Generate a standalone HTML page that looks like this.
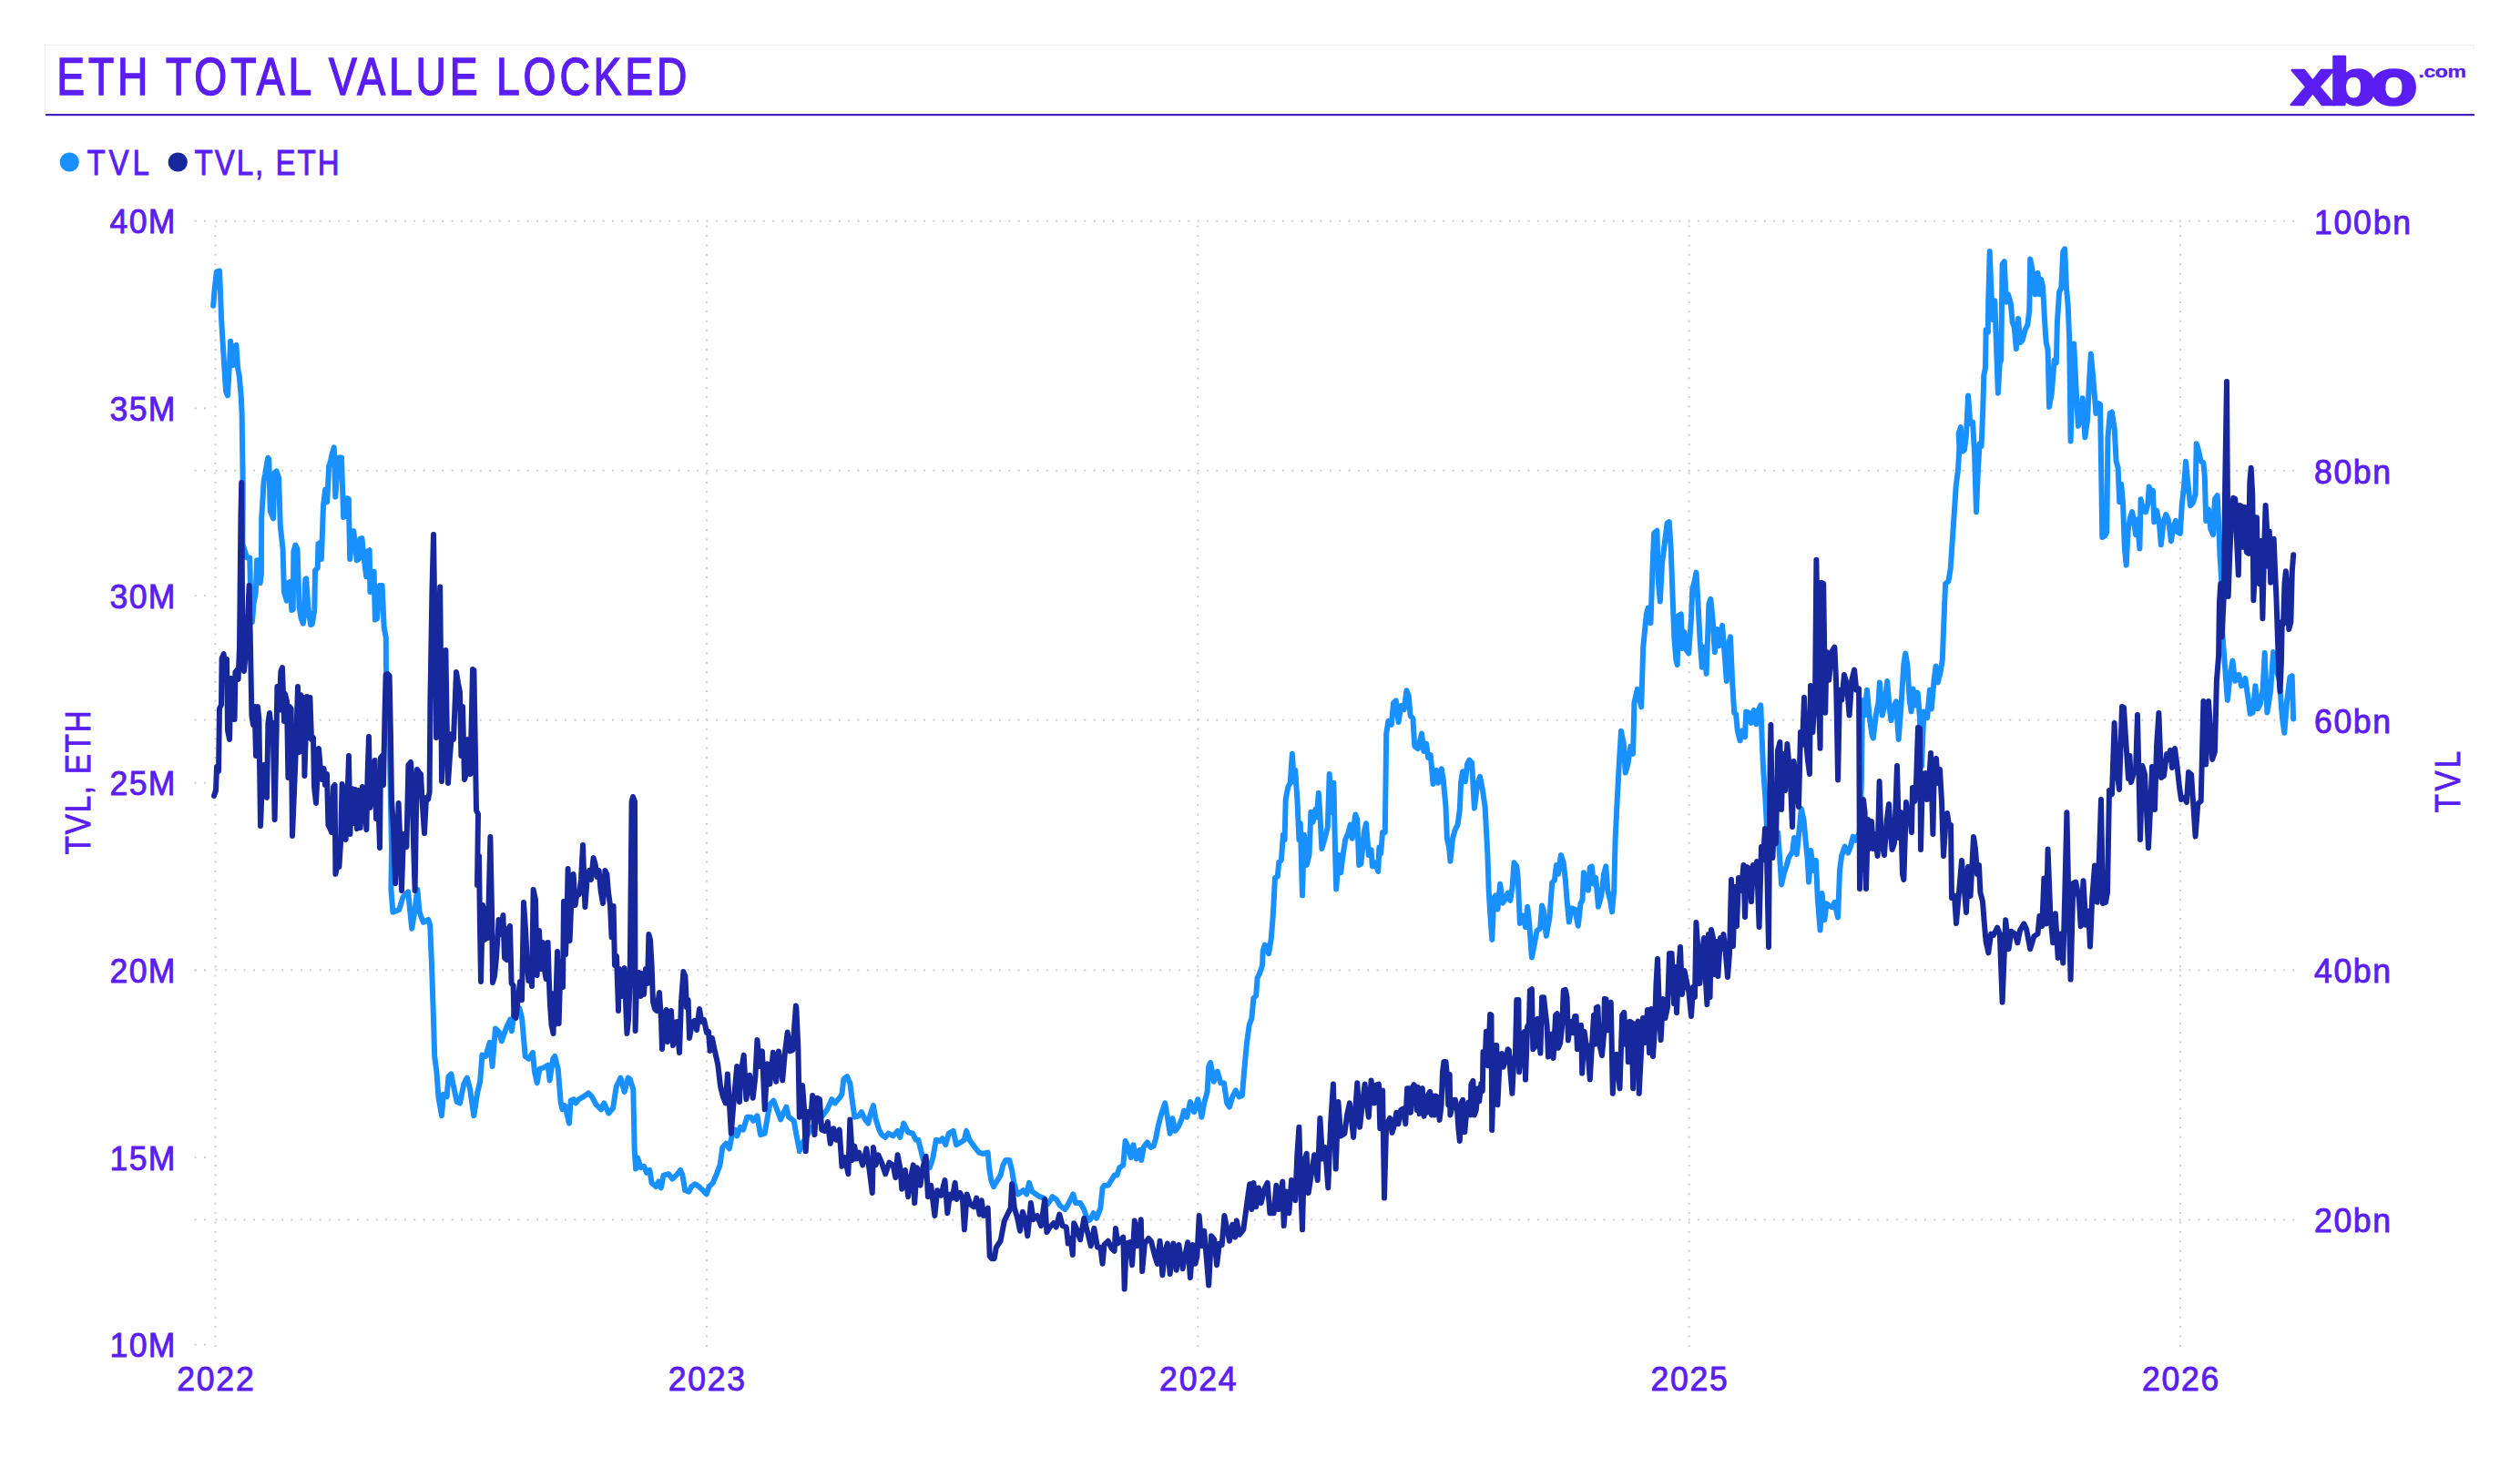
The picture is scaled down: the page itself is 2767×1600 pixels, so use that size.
<!DOCTYPE html>
<html lang="en"><head><meta charset="utf-8"><title>ETH Total Value Locked</title>
<style>
html,body{margin:0;padding:0;background:#fff;}
body{width:2767px;height:1600px;overflow:hidden;}
svg{display:block;}
text{font-family:"Liberation Sans", Arial, Helvetica, sans-serif;fill:#5a1df2;}
.g{stroke:#cdcdcd;stroke-width:2;stroke-dasharray:2 8.35;fill:none;}
</style></head><body>
<svg width="2767" height="1600" viewBox="0 0 2767 1600">
<rect width="2767" height="1600" fill="#fff"/>

<path d="M49.5 126 V49.5 H2716.5 V54" fill="none" stroke="#efefef" stroke-width="1"/>
<rect x="50" y="125" width="2667" height="2.2" fill="#4a1fc2"/>
<text transform="translate(62.3 104.2) scale(0.81 1)" font-size="57" text-anchor="start" textLength="854.3" lengthAdjust="spacing" stroke="#5a1df2" stroke-width="1.5">ETH TOTAL VALUE LOCKED</text>
<text transform="translate(2515.5 114.6) scale(1.2 1)" font-size="72" font-weight="bold" stroke="#5a1df2" stroke-width="2.6" stroke-linejoin="round" x="0 34.3 72">xbo</text>
<text transform="translate(2655.5 85.3) scale(1.25 1)" font-size="18.5" text-anchor="start" textLength="42.0" lengthAdjust="spacing" stroke="#5a1df2" stroke-width="0.3" font-weight="bold">.com</text>
<circle cx="76.3" cy="178" r="10.6" fill="#1890ff"/>
<text transform="translate(95.5 192) scale(0.87 1)" font-size="38" text-anchor="start" textLength="78.7" lengthAdjust="spacing" stroke="#5a1df2" stroke-width="0.9">TVL</text>
<circle cx="195.3" cy="178" r="10.6" fill="#16289c"/>
<text transform="translate(213.5 192) scale(0.87 1)" font-size="38" text-anchor="start" textLength="182.8" lengthAdjust="spacing" stroke="#5a1df2" stroke-width="0.9">TVL, ETH</text>
<path class="g" style="stroke-dasharray:2 8.45" d="M213.6 242.7 H227"/>
<path class="g" style="stroke-dasharray:2 8.367" d="M236.5 242.7 H2520.5"/>
<path class="g" style="stroke-dasharray:2 8.45" d="M213.6 516.7 H227"/>
<path class="g" style="stroke-dasharray:2 8.367" d="M236.5 516.7 H2520.5"/>
<path class="g" style="stroke-dasharray:2 8.45" d="M213.6 790.8 H227"/>
<path class="g" style="stroke-dasharray:2 8.367" d="M236.5 790.8 H2520.5"/>
<path class="g" style="stroke-dasharray:2 8.45" d="M213.6 1065.3 H227"/>
<path class="g" style="stroke-dasharray:2 8.367" d="M236.5 1065.3 H2520.5"/>
<path class="g" style="stroke-dasharray:2 8.45" d="M213.6 1339.5 H227"/>
<path class="g" style="stroke-dasharray:2 8.367" d="M236.5 1339.5 H2520.5"/>
<path class="g" style="stroke-dasharray:2 8.45" d="M213.6 448.4 H227"/>
<path class="g" style="stroke-dasharray:2 8.45" d="M213.6 654.1 H227"/>
<path class="g" style="stroke-dasharray:2 8.45" d="M213.6 859.7 H227"/>
<path class="g" style="stroke-dasharray:2 8.45" d="M213.6 1065.4 H227"/>
<path class="g" style="stroke-dasharray:2 8.45" d="M213.6 1271.1 H227"/>
<path class="g" style="stroke-dasharray:2 8.45" d="M213.6 1476.8 H227"/>
<path class="g" style="stroke-dasharray:2 8.418" d="M236.5 247.6 V1479.5"/>
<path class="g" style="stroke-dasharray:2 8.418" d="M775.9 247.6 V1479.5"/>
<path class="g" style="stroke-dasharray:2 8.418" d="M1315.3 247.6 V1479.5"/>
<path class="g" style="stroke-dasharray:2 8.418" d="M1854.7 247.6 V1479.5"/>
<path class="g" style="stroke-dasharray:2 8.418" d="M2394.1 247.6 V1479.5"/>
<text transform="translate(192.5 256.3) scale(0.95 1)" font-size="37.5" text-anchor="end" textLength="75.8" lengthAdjust="spacing" stroke="#5a1df2" stroke-width="0.9">40M</text>
<text transform="translate(192.5 462.0) scale(0.95 1)" font-size="37.5" text-anchor="end" textLength="75.8" lengthAdjust="spacing" stroke="#5a1df2" stroke-width="0.9">35M</text>
<text transform="translate(192.5 667.7) scale(0.95 1)" font-size="37.5" text-anchor="end" textLength="75.8" lengthAdjust="spacing" stroke="#5a1df2" stroke-width="0.9">30M</text>
<text transform="translate(192.5 873.3) scale(0.95 1)" font-size="37.5" text-anchor="end" textLength="75.8" lengthAdjust="spacing" stroke="#5a1df2" stroke-width="0.9">25M</text>
<text transform="translate(192.5 1079.0) scale(0.95 1)" font-size="37.5" text-anchor="end" textLength="75.8" lengthAdjust="spacing" stroke="#5a1df2" stroke-width="0.9">20M</text>
<text transform="translate(192.5 1284.7) scale(0.95 1)" font-size="37.5" text-anchor="end" textLength="75.8" lengthAdjust="spacing" stroke="#5a1df2" stroke-width="0.9">15M</text>
<text transform="translate(192.5 1490.4) scale(0.95 1)" font-size="37.5" text-anchor="end" textLength="75.8" lengthAdjust="spacing" stroke="#5a1df2" stroke-width="0.9">10M</text>
<text transform="translate(2541 256.5) scale(0.95 1)" font-size="37.5" text-anchor="start" textLength="111.6" lengthAdjust="spacing" stroke="#5a1df2" stroke-width="0.9">100bn</text>
<text transform="translate(2541 530.7) scale(0.95 1)" font-size="37.5" text-anchor="start" textLength="88.4" lengthAdjust="spacing" stroke="#5a1df2" stroke-width="0.9">80bn</text>
<text transform="translate(2541 804.9) scale(0.95 1)" font-size="37.5" text-anchor="start" textLength="88.4" lengthAdjust="spacing" stroke="#5a1df2" stroke-width="0.9">60bn</text>
<text transform="translate(2541 1079.1) scale(0.95 1)" font-size="37.5" text-anchor="start" textLength="88.4" lengthAdjust="spacing" stroke="#5a1df2" stroke-width="0.9">40bn</text>
<text transform="translate(2541 1353.3) scale(0.95 1)" font-size="37.5" text-anchor="start" textLength="88.4" lengthAdjust="spacing" stroke="#5a1df2" stroke-width="0.9">20bn</text>
<text transform="translate(236.5 1527.3) scale(0.95 1)" font-size="37.5" text-anchor="middle" textLength="88.9" lengthAdjust="spacing" stroke="#5a1df2" stroke-width="0.9">2022</text>
<text transform="translate(775.9 1527.3) scale(0.95 1)" font-size="37.5" text-anchor="middle" textLength="88.9" lengthAdjust="spacing" stroke="#5a1df2" stroke-width="0.9">2023</text>
<text transform="translate(1315.3 1527.3) scale(0.95 1)" font-size="37.5" text-anchor="middle" textLength="88.9" lengthAdjust="spacing" stroke="#5a1df2" stroke-width="0.9">2024</text>
<text transform="translate(1854.7 1527.3) scale(0.95 1)" font-size="37.5" text-anchor="middle" textLength="88.9" lengthAdjust="spacing" stroke="#5a1df2" stroke-width="0.9">2025</text>
<text transform="translate(2394.1 1527.3) scale(0.95 1)" font-size="37.5" text-anchor="middle" textLength="88.9" lengthAdjust="spacing" stroke="#5a1df2" stroke-width="0.9">2026</text>
<text transform="translate(98.5 859.3) rotate(-90) scale(0.87 1)" font-size="38" text-anchor="middle" textLength="181.6" lengthAdjust="spacing" stroke="#5a1df2" stroke-width="0.9">TVL, ETH</text>
<text transform="translate(2700.5 858.5) rotate(-90) scale(0.87 1)" font-size="38" text-anchor="middle" textLength="77.6" lengthAdjust="spacing" stroke="#5a1df2" stroke-width="0.9">TVL</text>
<path d="M234.2 335.8 L235.6 317.8 L237.8 298.3 L241.1 297.5 L243.1 351.1 L246.7 409.4 L248.1 430.3 L250.0 434.4 L252.2 395.6 L253.1 374.7 L255.8 401.1 L257.8 380.3 L259.4 378.9 L261.1 403.9 L262.8 413.6 L264.7 434.4 L265.6 453.9 L266.1 490.0 L266.7 530.3 L266.4 597.2 L271.1 612.5 L274.2 612.5 L275.1 652.8 L276.9 683.3 L278.6 662.5 L280.7 651.4 L282.1 615.3 L284.2 615.3 L285.6 640.3 L286.9 630.6 L287.2 569.4 L289.7 527.8 L291.1 520.8 L294.2 502.8 L295.3 504.2 L296.7 561.1 L300.1 569.4 L301.5 519.4 L303.6 517.4 L306.1 525.0 L307.8 577.8 L310.6 602.8 L311.9 650.0 L314.7 659.7 L316.1 640.3 L318.2 638.9 L320.3 670.1 L321.7 669.4 L322.4 605.6 L324.4 598.6 L326.5 602.8 L328.6 666.7 L330.7 679.2 L332.8 684.7 L334.2 675.0 L335.3 636.1 L336.2 635.4 L338.3 666.7 L341.1 686.1 L342.8 685.4 L345.3 669.4 L346.0 626.4 L348.8 623.6 L349.4 597.2 L352.2 595.8 L352.9 613.9 L355.0 555.6 L357.1 537.5 L359.2 551.4 L361.2 511.1 L361.9 510.8 L364.7 498.3 L366.7 491.4 L368.3 545.6 L370.3 517.8 L372.2 502.5 L375.0 502.5 L375.8 527.8 L377.2 568.1 L379.3 566.7 L380.7 547.2 L382.8 547.9 L384.2 613.9 L386.9 583.3 L388.3 583.3 L391.8 615.3 L393.9 613.9 L395.3 591.7 L397.4 591.0 L399.4 611.1 L402.2 633.3 L403.6 605.6 L405.7 604.2 L406.4 650.0 L408.5 627.8 L410.6 627.8 L411.9 680.6 L414.0 679.2 L416.8 643.1 L419.6 643.1 L421.7 688.9 L423.8 700.0 L423.9 730.6 L427.8 822.2 L430.0 933.3 L429.4 976.7 L431.4 1001.7 L438.3 998.9 L442.5 985.0 L448.1 979.4 L452.2 1019.7 L455.6 998.9 L458.3 976.7 L460.6 1001.7 L464.7 1012.8 L470.3 1010.0 L472.2 1015.6 L473.9 1057.2 L475.8 1112.8 L477.2 1160.0 L479.4 1176.7 L481.4 1204.4 L485.0 1225.3 L486.9 1201.7 L490.6 1204.4 L492.5 1182.2 L495.3 1179.4 L498.1 1193.3 L501.7 1210.0 L505.0 1211.4 L509.2 1190.6 L512.8 1183.6 L516.1 1196.1 L520.3 1225.3 L524.4 1198.9 L527.2 1187.8 L529.4 1158.6 L533.3 1160.0 L537.8 1144.7 L540.6 1171.1 L543.9 1129.4 L548.1 1133.6 L550.8 1143.3 L555.6 1129.4 L560.0 1119.7 L561.9 1132.2 L564.7 1110.0 L570.3 1107.2 L573.1 1118.3 L576.7 1160.0 L580.6 1162.8 L585.0 1155.8 L586.9 1176.7 L589.7 1189.2 L592.5 1173.9 L596.7 1172.5 L601.7 1169.7 L603.6 1186.4 L607.2 1162.8 L609.2 1160.0 L612.8 1173.9 L615.6 1210.0 L617.5 1218.3 L620.3 1214.2 L625.0 1233.6 L626.7 1208.6 L630.0 1207.2 L632.2 1211.4 L635.6 1207.2 L640.6 1204.4 L646.1 1200.3 L650.0 1204.4 L654.4 1212.8 L660.0 1218.3 L663.3 1211.4 L668.3 1222.5 L673.1 1216.9 L676.7 1193.3 L681.4 1183.6 L685.6 1198.9 L689.7 1183.6 L691.7 1185.0 L695.3 1196.1 L696.7 1262.8 L698.1 1283.6 L700.0 1271.1 L703.6 1282.2 L707.2 1280.8 L710.0 1287.8 L713.3 1285.0 L715.6 1298.9 L720.3 1303.1 L723.1 1297.5 L725.8 1304.4 L728.6 1290.6 L734.2 1289.2 L738.3 1294.7 L742.5 1290.6 L747.2 1285.0 L749.4 1290.6 L752.2 1307.2 L756.4 1308.6 L759.2 1303.1 L763.3 1300.3 L767.5 1303.1 L771.7 1307.2 L775.8 1311.4 L778.6 1303.1 L782.8 1298.9 L786.9 1289.2 L790.6 1279.4 L793.3 1260.0 L797.2 1255.8 L800.8 1261.4 L803.6 1247.5 L807.2 1240.6 L809.2 1247.5 L812.8 1237.8 L816.1 1240.6 L820.3 1226.7 L824.4 1226.7 L827.2 1230.8 L831.4 1225.3 L835.0 1246.1 L839.7 1244.7 L842.5 1228.1 L845.3 1212.8 L849.4 1208.6 L853.6 1219.7 L857.2 1229.4 L863.3 1215.6 L866.1 1226.7 L871.7 1230.8 L874.4 1246.1 L877.8 1262.8 L877.8 1264.2 L881.9 1254.4 L891.7 1237.8 L904.2 1223.9 L908.3 1218.3 L913.3 1207.2 L916.7 1211.4 L921.7 1205.8 L924.4 1201.7 L926.4 1185.0 L930.0 1182.2 L933.3 1189.2 L935.6 1207.2 L938.3 1226.7 L943.1 1225.3 L945.8 1221.1 L950.0 1229.4 L953.3 1233.6 L955.6 1223.9 L958.9 1214.2 L961.7 1229.4 L965.3 1240.6 L968.1 1246.1 L972.2 1248.9 L975.6 1244.7 L980.6 1247.5 L985.6 1241.9 L988.3 1248.9 L992.2 1233.6 L994.4 1237.8 L997.2 1243.3 L1002.2 1244.7 L1005.6 1251.7 L1008.3 1251.7 L1011.1 1262.8 L1013.9 1273.9 L1016.7 1279.4 L1020.8 1282.2 L1024.4 1271.1 L1027.8 1251.7 L1031.9 1253.1 L1034.7 1250.3 L1038.3 1257.2 L1041.7 1244.7 L1046.7 1241.9 L1050.0 1257.2 L1055.0 1254.4 L1058.9 1251.7 L1061.1 1241.9 L1064.4 1251.7 L1069.4 1258.6 L1075.0 1265.6 L1079.2 1266.9 L1084.7 1265.6 L1086.1 1282.2 L1088.3 1296.1 L1091.1 1303.1 L1094.4 1297.5 L1098.6 1290.6 L1101.4 1279.4 L1104.2 1273.9 L1108.3 1273.9 L1111.1 1285.0 L1113.3 1298.9 L1116.1 1308.6 L1118.1 1311.4 L1123.6 1307.2 L1127.2 1311.4 L1130.0 1298.9 L1133.3 1308.6 L1137.5 1311.4 L1141.7 1314.2 L1145.8 1315.6 L1150.0 1322.5 L1154.2 1316.9 L1155.6 1314.2 L1159.7 1316.9 L1163.9 1323.9 L1169.4 1328.1 L1173.6 1321.1 L1178.3 1311.4 L1181.1 1321.1 L1186.1 1321.1 L1190.3 1328.1 L1194.4 1340.6 L1197.2 1339.2 L1200.6 1332.2 L1204.2 1337.8 L1208.3 1326.7 L1210.6 1304.4 L1212.5 1301.7 L1216.7 1301.7 L1219.4 1297.5 L1223.6 1290.6 L1226.4 1290.6 L1229.2 1282.2 L1233.3 1279.4 L1235.6 1253.1 L1238.9 1260.0 L1241.7 1271.1 L1244.4 1257.2 L1247.8 1272.5 L1251.4 1262.8 L1253.3 1273.9 L1255.6 1260.0 L1259.7 1254.4 L1263.3 1260.0 L1266.7 1258.6 L1269.4 1248.9 L1271.7 1236.4 L1275.0 1223.9 L1279.2 1211.4 L1281.9 1226.7 L1284.7 1244.7 L1287.5 1228.1 L1290.3 1241.9 L1294.4 1236.4 L1297.8 1228.1 L1300.0 1219.7 L1303.3 1226.7 L1306.9 1210.0 L1311.1 1221.1 L1315.3 1207.2 L1319.4 1226.7 L1322.2 1211.4 L1325.6 1198.9 L1327.2 1171.1 L1329.2 1166.9 L1332.8 1187.8 L1336.7 1176.7 L1340.3 1189.2 L1343.9 1189.2 L1347.2 1211.4 L1350.0 1215.6 L1353.3 1204.4 L1356.9 1197.5 L1360.6 1204.4 L1363.9 1203.1 L1366.1 1176.7 L1368.9 1146.1 L1371.7 1125.3 L1374.4 1118.3 L1376.4 1096.1 L1379.2 1093.3 L1380.6 1073.9 L1382.8 1069.7 L1386.1 1060.0 L1386.7 1044.4 L1388.9 1037.5 L1393.1 1047.2 L1395.8 1030.6 L1397.8 1005.6 L1400.0 963.9 L1402.8 962.5 L1404.2 947.2 L1406.9 944.4 L1408.9 916.7 L1410.6 922.2 L1411.7 877.8 L1414.4 863.9 L1416.7 859.7 L1418.9 827.8 L1420.8 858.3 L1422.2 845.8 L1424.4 877.8 L1426.4 922.2 L1427.8 904.2 L1430.0 983.3 L1431.9 916.7 L1434.7 950.0 L1437.5 938.9 L1439.4 891.7 L1441.7 902.8 L1444.4 888.9 L1445.8 897.2 L1447.8 870.8 L1449.4 894.4 L1451.4 931.9 L1454.2 922.2 L1457.8 908.3 L1459.7 850.0 L1461.7 891.7 L1464.4 859.7 L1466.1 936.1 L1467.2 976.4 L1470.0 938.9 L1472.2 958.3 L1474.4 940.3 L1477.2 922.2 L1480.6 913.9 L1482.8 905.6 L1484.7 920.8 L1488.3 894.4 L1490.3 900.0 L1492.2 950.0 L1494.4 948.6 L1497.8 913.9 L1500.0 904.2 L1502.8 938.9 L1505.6 933.3 L1506.9 951.4 L1509.7 947.2 L1513.3 956.9 L1514.4 930.6 L1516.1 937.5 L1518.1 913.9 L1520.8 913.9 L1522.2 805.6 L1524.4 791.7 L1527.8 795.8 L1530.0 772.2 L1532.8 769.4 L1535.6 793.1 L1538.3 775.0 L1541.7 779.2 L1544.4 758.3 L1546.7 763.9 L1548.6 786.1 L1551.4 788.9 L1553.3 819.4 L1556.9 822.2 L1561.1 805.6 L1563.3 825.0 L1566.1 816.7 L1568.1 831.9 L1570.8 829.2 L1573.6 861.1 L1577.2 845.8 L1579.2 859.7 L1582.8 844.4 L1584.7 855.6 L1587.5 886.1 L1588.9 920.8 L1591.1 930.6 L1592.5 945.8 L1595.0 920.8 L1597.8 911.1 L1600.6 905.6 L1602.8 888.9 L1604.2 858.3 L1606.1 847.2 L1608.9 858.3 L1611.1 838.9 L1613.3 834.7 L1616.1 837.5 L1618.9 887.5 L1622.2 861.1 L1625.0 852.8 L1627.8 866.7 L1630.6 886.1 L1633.3 936.1 L1634.7 977.8 L1636.1 1001.4 L1638.3 1031.9 L1640.3 986.1 L1642.2 983.3 L1644.4 998.6 L1647.2 970.8 L1650.0 991.7 L1652.8 987.5 L1655.6 980.6 L1658.3 988.9 L1660.6 973.6 L1662.5 947.2 L1665.3 951.4 L1666.7 963.9 L1668.9 1013.9 L1672.2 1005.6 L1675.0 1018.1 L1677.2 995.8 L1679.2 1013.9 L1681.9 1051.4 L1684.7 1037.5 L1687.5 1022.2 L1691.1 1019.4 L1693.1 994.4 L1695.0 1000.0 L1697.8 1027.8 L1701.4 1008.3 L1704.2 969.4 L1706.9 966.7 L1708.9 950.0 L1711.1 959.7 L1713.9 938.9 L1716.7 947.2 L1718.9 966.7 L1720.8 991.7 L1722.8 1012.5 L1725.6 997.2 L1729.2 998.6 L1732.8 1016.7 L1735.6 991.7 L1737.5 988.9 L1738.9 958.3 L1741.7 966.7 L1743.9 977.8 L1745.8 952.8 L1747.8 951.4 L1750.0 970.8 L1752.2 963.9 L1755.0 995.8 L1758.3 983.3 L1761.1 959.7 L1763.3 951.4 L1765.3 977.8 L1768.1 988.9 L1770.0 1001.4 L1772.2 977.8 L1773.6 922.2 L1775.6 880.6 L1777.8 838.9 L1780.0 802.8 L1782.8 816.7 L1784.7 848.6 L1787.5 838.9 L1790.3 819.4 L1793.1 827.8 L1794.4 772.2 L1797.8 756.9 L1800.0 766.7 L1802.2 776.4 L1804.2 711.1 L1807.8 674.4 L1809.7 667.5 L1812.5 684.2 L1814.4 627.2 L1816.1 585.6 L1819.4 582.8 L1820.8 638.3 L1822.8 660.6 L1825.0 618.9 L1827.8 596.7 L1830.6 574.4 L1832.8 573.1 L1834.7 602.2 L1836.7 657.8 L1838.3 699.4 L1840.3 724.4 L1841.7 730.0 L1843.1 675.8 L1845.8 674.4 L1847.2 711.9 L1849.4 693.9 L1851.4 713.3 L1854.2 717.5 L1856.9 680.0 L1858.3 646.7 L1860.6 638.3 L1862.5 628.6 L1864.4 660.6 L1866.7 705.0 L1868.9 732.8 L1871.7 710.6 L1873.6 739.7 L1876.4 663.3 L1878.3 657.8 L1880.6 680.0 L1882.8 716.1 L1885.6 691.1 L1887.5 709.2 L1891.1 686.9 L1893.9 721.7 L1895.8 748.1 L1897.8 707.8 L1900.0 699.4 L1902.2 749.4 L1904.2 782.8 L1906.1 784.2 L1907.8 802.2 L1910.6 813.3 L1913.3 802.2 L1916.1 809.2 L1917.2 781.4 L1920.0 782.8 L1922.8 793.9 L1925.6 780.0 L1928.3 795.3 L1930.6 780.0 L1933.3 774.4 L1934.7 810.6 L1936.1 845.0 L1938.3 875.6 L1940.3 914.4 L1945.8 931.1 L1952.2 914.4 L1954.2 942.2 L1956.1 971.4 L1958.9 958.9 L1961.7 950.6 L1963.9 942.2 L1968.1 935.3 L1970.0 920.0 L1972.8 938.1 L1975.6 911.7 L1977.8 888.1 L1980.6 900.6 L1982.8 925.6 L1984.7 943.6 L1986.1 968.6 L1988.3 933.9 L1991.1 956.1 L1993.9 945.0 L1995.8 986.7 L1998.6 1021.4 L2000.6 981.1 L2003.3 1010.3 L2005.6 992.2 L2008.9 995.0 L2011.7 996.4 L2014.4 990.8 L2018.1 1007.5 L2020.0 956.1 L2022.2 939.4 L2025.6 929.7 L2029.2 936.7 L2031.9 929.7 L2034.7 918.6 L2037.5 922.8 L2041.7 914.4 L2043.9 858.9 L2045.0 768.9 L2047.2 785.6 L2050.0 757.8 L2052.8 788.3 L2055.6 807.8 L2056.9 810.6 L2059.7 785.6 L2062.5 771.7 L2063.9 749.4 L2066.7 785.6 L2069.4 774.4 L2072.2 748.1 L2075.0 780.0 L2076.4 791.1 L2079.2 777.2 L2081.9 770.3 L2084.7 811.9 L2087.5 774.4 L2090.3 730.0 L2092.2 717.5 L2094.4 730.0 L2096.7 768.9 L2098.6 781.4 L2100.6 756.4 L2102.8 774.4 L2105.6 760.6 L2107.8 785.6 L2110.0 841.1 L2111.1 813.3 L2112.5 781.4 L2116.1 788.3 L2118.9 757.8 L2120.8 778.6 L2123.6 746.7 L2125.6 731.4 L2127.8 749.4 L2130.6 738.3 L2132.8 724.4 L2134.7 674.4 L2136.1 641.1 L2139.4 638.3 L2141.7 624.4 L2143.9 591.1 L2145.8 563.3 L2147.8 532.8 L2150.0 516.1 L2151.4 491.1 L2150.6 476.1 L2152.8 469.2 L2155.0 495.6 L2156.9 494.2 L2158.9 478.9 L2161.1 434.4 L2163.3 465.0 L2166.1 463.6 L2168.1 498.3 L2170.0 562.2 L2171.7 520.6 L2173.6 487.2 L2175.6 490.0 L2177.2 451.1 L2178.3 412.2 L2180.0 403.9 L2180.6 362.2 L2182.8 365.0 L2183.3 328.9 L2184.7 276.1 L2186.7 326.1 L2188.3 351.1 L2190.3 330.3 L2192.2 384.4 L2193.9 431.7 L2195.8 398.3 L2197.2 395.6 L2198.6 290.0 L2200.8 287.2 L2202.8 331.7 L2205.0 323.3 L2207.8 333.1 L2209.7 353.9 L2211.7 359.4 L2213.9 383.1 L2216.1 349.7 L2218.1 376.1 L2220.8 373.3 L2223.6 362.2 L2226.4 356.7 L2228.3 340.0 L2229.2 284.4 L2231.1 294.2 L2233.3 308.1 L2234.7 323.3 L2237.5 299.7 L2239.4 323.3 L2241.1 306.7 L2243.1 315.0 L2245.0 351.1 L2246.7 376.1 L2248.6 384.4 L2250.0 446.9 L2252.8 431.7 L2255.6 395.6 L2257.8 398.3 L2258.9 353.9 L2261.1 320.6 L2263.3 316.4 L2265.3 276.1 L2267.2 273.3 L2268.9 315.0 L2270.8 337.2 L2272.2 373.3 L2273.6 484.4 L2275.6 412.2 L2277.2 377.5 L2280.0 434.4 L2281.9 467.8 L2284.7 459.4 L2286.7 437.2 L2289.4 480.3 L2292.2 459.4 L2293.9 420.6 L2295.8 388.6 L2297.8 409.4 L2299.4 428.9 L2301.4 453.9 L2303.3 442.8 L2306.1 444.2 L2308.3 590.0 L2311.1 588.6 L2313.3 584.4 L2314.4 481.7 L2316.7 453.9 L2318.9 452.5 L2321.7 470.6 L2323.6 506.7 L2325.6 513.6 L2327.2 551.1 L2329.2 531.7 L2331.1 553.9 L2332.8 601.1 L2334.7 620.6 L2336.7 581.7 L2338.9 569.2 L2341.1 562.2 L2343.1 571.9 L2345.0 587.2 L2346.7 570.6 L2349.4 602.5 L2350.6 548.3 L2353.3 560.8 L2356.1 562.2 L2358.3 553.9 L2359.7 534.4 L2361.7 542.8 L2363.9 538.6 L2365.3 573.3 L2368.1 560.8 L2370.8 573.3 L2372.8 598.3 L2375.6 573.3 L2378.3 565.0 L2381.1 571.9 L2383.9 594.2 L2386.7 577.5 L2388.9 571.9 L2391.1 584.4 L2393.9 585.8 L2395.8 553.9 L2397.8 537.2 L2400.0 506.7 L2402.2 528.9 L2405.0 555.3 L2407.8 552.5 L2410.6 542.8 L2411.7 487.2 L2413.9 494.2 L2416.7 506.7 L2419.4 508.1 L2420.8 523.3 L2422.2 571.9 L2425.0 559.4 L2427.2 580.3 L2430.0 587.2 L2431.9 548.3 L2434.7 544.2 L2436.1 573.3 L2437.5 609.4 L2439.4 640.0 L2440.3 696.7 L2443.1 732.8 L2445.8 768.9 L2448.6 742.2 L2451.4 725.6 L2454.2 747.8 L2458.3 740.8 L2461.1 753.3 L2465.3 745.0 L2468.1 764.4 L2470.8 783.9 L2473.6 782.5 L2476.4 753.3 L2479.2 778.3 L2481.9 772.8 L2484.7 756.1 L2486.7 716.9 L2489.4 782.5 L2493.1 758.9 L2496.1 716.1 L2498.6 731.1 L2502.8 747.8 L2506.1 789.4 L2508.3 804.7 L2511.1 770.0 L2514.4 743.6 L2516.7 742.2 L2518.1 789.4" fill="none" stroke="#1890ff" stroke-width="6.0" stroke-linejoin="round" stroke-linecap="round"/>
<path d="M235.0 874.0 L237.0 868.0 L238.0 842.0 L240.0 847.0 L241.0 778.0 L243.0 774.0 L243.6 723.0 L245.6 718.0 L247.6 739.0 L249.0 724.0 L250.0 802.0 L252.0 812.0 L253.6 745.0 L255.6 750.0 L257.6 790.0 L258.4 738.0 L260.0 736.0 L261.6 746.0 L263.0 710.0 L264.4 570.0 L265.2 530.0 L266.4 720.0 L268.0 737.0 L270.0 716.0 L272.0 680.0 L273.6 643.0 L275.0 710.0 L276.4 786.0 L278.0 796.0 L279.6 776.0 L281.0 830.0 L283.0 776.0 L284.4 790.0 L286.0 907.0 L288.0 858.0 L290.0 840.0 L291.6 864.0 L293.0 876.0 L294.4 794.0 L296.0 783.0 L298.0 804.0 L299.6 794.0 L301.6 900.0 L303.6 802.0 L304.4 754.0 L306.4 780.0 L308.4 737.0 L310.0 733.0 L312.0 792.0 L313.0 762.0 L315.0 770.0 L316.4 854.0 L318.0 776.0 L319.6 778.0 L321.0 918.0 L323.0 870.0 L325.0 820.0 L327.0 754.0 L328.4 826.0 L330.0 763.0 L332.4 802.0 L333.6 766.0 L334.4 852.0 L337.0 765.0 L339.0 810.0 L340.4 766.0 L342.0 812.0 L344.0 810.0 L345.0 864.0 L347.0 882.0 L348.4 854.0 L350.0 822.0 L352.0 846.0 L353.6 856.0 L355.6 844.0 L357.0 862.0 L359.0 850.0 L360.4 906.0 L362.4 910.0 L364.0 914.0 L366.0 864.0 L367.6 862.0 L368.4 960.0 L370.4 950.0 L372.4 952.0 L374.0 926.0 L375.6 861.0 L377.6 870.0 L379.6 922.0 L381.6 874.0 L383.0 830.0 L384.4 916.0 L386.4 866.0 L388.0 904.0 L390.0 867.0 L392.0 910.0 L393.6 868.0 L395.6 909.0 L398.0 864.0 L400.0 874.0 L402.4 911.0 L403.6 850.0 L405.0 809.0 L406.4 887.0 L408.4 870.0 L410.0 850.0 L411.6 835.0 L413.0 899.0 L415.0 870.0 L417.0 931.0 L418.0 832.0 L419.6 830.0 L421.0 862.0 L422.4 790.0 L423.6 741.0 L425.6 740.0 L427.6 742.0 L429.0 810.0 L430.0 878.0 L432.0 910.0 L434.0 970.0 L436.0 930.0 L437.6 882.0 L439.6 930.0 L441.0 978.0 L443.0 916.0 L445.0 928.0 L446.4 930.0 L448.4 840.0 L451.0 837.0 L452.0 850.0 L453.6 910.0 L455.6 978.0 L457.0 890.0 L458.0 845.0 L460.0 848.0 L462.0 850.0 L463.6 880.0 L466.0 915.0 L468.0 876.0 L470.0 878.0 L471.6 870.0 L472.4 770.0 L474.4 650.0 L476.0 587.0 L477.6 690.0 L479.0 810.0 L481.0 730.0 L483.2 644.4 L484.4 770.0 L485.0 858.0 L487.0 806.0 L489.4 714.0 L490.6 790.0 L492.0 860.0 L494.0 830.0 L496.0 806.0 L498.0 812.0 L501.0 738.0 L503.0 750.0 L505.0 760.0 L506.4 830.0 L508.0 776.0 L510.0 856.0 L512.0 850.0 L514.0 812.0 L516.4 850.0 L519.0 735.0 L520.4 736.0 L522.0 830.0 L523.0 890.0 L525.0 894.0 L524.0 972.0 L526.0 940.0 L527.0 1018.0 L528.0 1078.0 L530.0 994.0 L532.0 1032.0 L533.6 998.0 L535.6 1030.0 L537.0 976.0 L538.4 919.0 L540.0 1000.0 L541.0 1079.0 L543.0 1072.0 L545.0 1052.0 L547.6 1010.0 L550.0 1026.0 L552.4 1005.0 L554.0 1052.0 L556.4 1054.0 L558.0 1020.0 L560.0 1017.0 L561.6 1080.0 L563.6 1082.0 L564.4 1116.0 L566.4 1118.0 L569.0 1096.0 L571.0 1078.0 L573.0 1098.0 L575.0 991.0 L577.0 1020.0 L579.0 1060.0 L580.4 1077.0 L582.4 1067.0 L584.0 1083.0 L585.6 977.0 L588.0 988.0 L589.6 1071.0 L592.0 1022.0 L594.0 1064.0 L596.0 1035.0 L598.0 1066.0 L599.6 1075.0 L601.6 1035.0 L603.0 1080.0 L604.0 1104.0 L605.6 1126.0 L607.6 1135.0 L608.0 1091.0 L609.6 1125.0 L612.0 1045.0 L613.6 1124.0 L615.6 1056.0 L618.0 1084.0 L619.0 990.0 L621.0 1048.0 L622.4 1016.0 L623.6 954.0 L625.6 1033.0 L627.0 998.0 L629.6 960.0 L631.6 994.0 L633.6 980.0 L636.0 982.0 L638.0 966.0 L640.0 928.0 L642.4 996.0 L645.0 960.0 L647.0 956.0 L649.0 966.0 L651.6 942.0 L653.6 949.0 L655.6 963.0 L657.6 956.0 L659.6 978.0 L662.0 992.0 L664.4 956.0 L666.4 960.0 L668.0 980.0 L670.0 994.0 L671.6 1029.0 L673.6 995.0 L675.0 1060.0 L677.0 1050.0 L679.0 1110.0 L680.0 1064.0 L682.4 1094.0 L684.0 1074.0 L685.6 1063.0 L687.0 1100.0 L688.4 1135.0 L690.0 1120.0 L691.6 1080.0 L693.6 880.0 L695.0 875.0 L697.0 880.0 L697.6 1132.0 L699.0 1080.0 L701.6 1068.0 L703.6 1094.0 L705.0 1069.0 L707.0 1092.0 L709.0 1064.0 L711.0 1080.0 L712.4 1026.0 L714.0 1032.0 L715.6 1060.0 L717.0 1100.0 L719.0 1108.0 L721.0 1110.0 L724.0 1090.0 L726.0 1120.0 L727.0 1152.0 L729.6 1116.0 L731.6 1109.0 L733.0 1144.0 L735.0 1130.0 L737.0 1110.0 L739.0 1148.0 L741.0 1138.0 L743.0 1122.0 L746.0 1156.0 L748.0 1100.0 L750.4 1067.0 L752.4 1072.0 L754.0 1106.0 L755.6 1098.0 L757.0 1140.0 L760.0 1123.0 L762.4 1121.0 L765.0 1131.0 L768.0 1108.0 L770.4 1122.0 L773.0 1120.0 L776.0 1134.0 L778.0 1133.0 L779.6 1154.0 L782.0 1140.0 L784.0 1150.0 L788.0 1168.0 L788.3 1169.7 L791.1 1193.3 L793.9 1204.4 L796.7 1211.4 L798.9 1179.4 L800.8 1210.0 L802.8 1244.7 L805.6 1210.0 L809.2 1171.1 L811.9 1210.0 L813.3 1179.4 L816.7 1158.6 L819.4 1207.2 L823.1 1180.8 L826.7 1205.8 L829.4 1182.2 L831.4 1141.9 L834.2 1171.1 L836.9 1154.4 L839.7 1218.3 L842.5 1168.3 L845.3 1190.6 L848.9 1155.8 L852.2 1187.8 L855.0 1154.4 L859.2 1186.4 L861.9 1155.8 L864.7 1133.6 L867.5 1154.4 L870.3 1153.1 L873.9 1104.4 L874.4 1107.2 L876.4 1151.7 L877.8 1226.7 L881.1 1191.9 L882.8 1214.2 L884.7 1264.2 L887.5 1221.1 L890.3 1226.7 L892.2 1203.1 L894.4 1246.1 L897.2 1205.8 L900.0 1207.2 L902.2 1240.6 L905.6 1241.9 L908.9 1232.2 L911.7 1255.8 L915.3 1239.2 L918.1 1251.7 L921.7 1240.6 L924.4 1280.8 L927.8 1271.1 L931.4 1289.2 L933.3 1229.4 L936.1 1273.9 L938.3 1258.6 L940.3 1272.5 L943.1 1265.6 L947.2 1279.4 L951.4 1261.4 L955.0 1287.8 L957.8 1310.0 L958.9 1260.0 L961.7 1279.4 L964.4 1268.3 L968.1 1276.7 L972.2 1289.2 L976.4 1276.7 L980.6 1279.4 L983.3 1293.3 L985.6 1268.3 L988.3 1282.2 L990.3 1305.8 L993.9 1285.0 L997.2 1314.2 L1000.0 1293.3 L1002.8 1279.4 L1004.2 1321.1 L1006.9 1282.2 L1010.6 1301.7 L1013.3 1282.2 L1016.7 1269.7 L1018.9 1314.2 L1022.2 1301.7 L1026.4 1335.0 L1029.2 1307.2 L1033.3 1312.8 L1037.5 1296.1 L1040.3 1332.2 L1043.1 1311.4 L1045.8 1315.6 L1048.6 1298.9 L1050.6 1316.9 L1054.2 1310.0 L1056.9 1315.6 L1058.9 1350.3 L1061.7 1311.4 L1065.3 1322.5 L1069.4 1325.3 L1072.2 1315.6 L1075.6 1333.6 L1077.8 1318.3 L1080.0 1335.0 L1084.7 1326.7 L1086.7 1379.4 L1088.9 1382.2 L1091.7 1382.2 L1093.9 1369.7 L1098.6 1362.8 L1102.8 1340.6 L1106.9 1332.2 L1109.7 1326.7 L1111.1 1300.3 L1113.9 1326.7 L1117.2 1337.8 L1120.0 1351.7 L1122.8 1330.8 L1125.6 1339.2 L1128.3 1357.2 L1131.9 1321.1 L1134.7 1339.2 L1138.9 1335.0 L1143.1 1346.1 L1147.2 1316.9 L1149.4 1353.1 L1152.8 1347.5 L1156.9 1343.3 L1159.7 1347.5 L1163.3 1333.6 L1166.7 1346.1 L1170.8 1347.5 L1172.8 1365.6 L1175.6 1360.0 L1177.8 1378.1 L1179.2 1343.3 L1181.9 1348.9 L1186.1 1361.4 L1190.3 1337.8 L1194.4 1354.4 L1197.8 1368.3 L1201.4 1348.9 L1205.0 1369.7 L1208.3 1369.7 L1210.6 1387.8 L1212.5 1366.9 L1216.7 1362.8 L1220.8 1371.1 L1223.6 1373.9 L1225.0 1348.9 L1227.2 1365.6 L1230.6 1361.4 L1233.3 1358.6 L1234.7 1415.6 L1236.7 1365.6 L1240.3 1364.2 L1243.1 1389.2 L1245.8 1340.6 L1248.6 1368.3 L1252.8 1339.2 L1254.2 1396.1 L1256.9 1365.6 L1261.1 1360.0 L1263.9 1362.8 L1268.1 1379.4 L1270.8 1387.8 L1273.6 1362.8 L1276.4 1400.3 L1279.2 1373.9 L1281.9 1365.6 L1284.7 1398.9 L1288.3 1365.6 L1291.7 1394.7 L1294.4 1366.9 L1298.6 1393.3 L1301.4 1378.1 L1304.2 1364.2 L1306.9 1403.1 L1309.7 1366.9 L1312.5 1387.8 L1314.4 1379.4 L1316.7 1335.0 L1319.4 1368.3 L1322.2 1351.7 L1325.0 1385.0 L1327.2 1411.4 L1330.0 1357.2 L1333.3 1361.4 L1336.1 1389.2 L1338.9 1365.6 L1341.7 1366.9 L1344.4 1335.0 L1347.8 1351.7 L1350.0 1362.8 L1353.3 1344.7 L1356.1 1358.6 L1357.8 1340.6 L1361.1 1355.8 L1365.3 1350.3 L1369.4 1319.7 L1372.2 1300.3 L1374.4 1328.1 L1376.4 1298.9 L1379.2 1325.3 L1381.9 1304.4 L1384.7 1321.1 L1388.3 1305.8 L1391.7 1298.9 L1394.4 1332.2 L1398.6 1332.2 L1401.4 1301.7 L1404.2 1328.1 L1408.3 1297.5 L1409.7 1346.1 L1412.5 1308.6 L1415.3 1332.2 L1418.1 1296.1 L1422.2 1318.3 L1424.4 1266.9 L1426.4 1237.8 L1428.3 1305.8 L1430.0 1350.3 L1431.9 1275.3 L1434.7 1266.9 L1436.7 1310.0 L1440.3 1286.4 L1443.1 1268.3 L1446.7 1296.1 L1449.4 1228.1 L1452.2 1272.5 L1455.0 1260.0 L1458.3 1304.4 L1461.1 1233.6 L1463.9 1190.6 L1466.7 1283.6 L1469.4 1210.0 L1472.2 1247.5 L1476.4 1244.7 L1479.2 1223.9 L1481.9 1211.4 L1486.1 1248.9 L1490.3 1189.2 L1493.1 1237.8 L1495.8 1212.8 L1498.6 1190.6 L1502.8 1226.7 L1505.6 1186.4 L1508.9 1211.4 L1510.6 1191.9 L1513.9 1190.6 L1515.3 1239.2 L1518.1 1197.5 L1520.0 1315.6 L1522.2 1232.8 L1524.3 1231.4 L1526.1 1227.9 L1528.5 1243.9 L1530.6 1236.9 L1533.3 1221.7 L1535.4 1234.2 L1538.2 1218.9 L1541.0 1217.5 L1543.3 1234.2 L1545.1 1195.3 L1547.2 1195.3 L1548.9 1221.7 L1550.3 1195.3 L1552.5 1191.1 L1554.2 1193.9 L1555.6 1218.9 L1556.9 1193.9 L1558.6 1223.1 L1560.4 1196.7 L1561.8 1195.3 L1563.6 1225.8 L1565.3 1207.8 L1566.7 1221.7 L1568.1 1202.2 L1570.1 1198.8 L1571.9 1224.4 L1573.6 1203.6 L1575.0 1224.4 L1576.4 1203.6 L1578.5 1205.0 L1580.6 1230.0 L1582.6 1213.3 L1584.0 1177.2 L1585.4 1166.1 L1587.5 1166.1 L1588.9 1180.0 L1590.3 1213.3 L1591.7 1180.0 L1592.4 1224.4 L1594.4 1216.1 L1596.5 1207.8 L1597.9 1207.8 L1600.0 1218.9 L1601.4 1239.7 L1602.8 1252.9 L1604.9 1210.6 L1606.2 1207.8 L1608.3 1243.2 L1610.4 1218.9 L1612.5 1210.6 L1614.6 1224.4 L1615.3 1191.1 L1617.4 1186.9 L1618.8 1224.4 L1620.8 1218.9 L1622.9 1195.3 L1624.3 1209.2 L1626.4 1189.7 L1627.8 1198.1 L1628.5 1155.0 L1630.6 1164.7 L1631.9 1132.8 L1634.0 1170.3 L1636.1 1114.0 L1637.5 1114.7 L1638.2 1241.1 L1640.0 1177.2 L1641.4 1148.1 L1643.3 1148.1 L1644.4 1213.3 L1646.1 1177.2 L1647.2 1157.8 L1649.3 1157.1 L1650.7 1171.7 L1652.5 1166.1 L1653.9 1163.3 L1655.6 1152.2 L1656.9 1153.6 L1658.3 1175.8 L1660.4 1200.8 L1662.2 1166.1 L1663.9 1157.8 L1665.3 1098.1 L1667.4 1098.1 L1668.1 1177.2 L1670.1 1157.8 L1671.5 1166.1 L1672.2 1135.6 L1673.9 1132.8 L1675.0 1185.6 L1677.1 1127.2 L1678.9 1124.4 L1679.9 1087.6 L1681.9 1086.2 L1683.3 1152.2 L1685.4 1149.4 L1686.8 1121.7 L1688.2 1118.9 L1689.6 1138.3 L1691.4 1156.4 L1693.1 1095.3 L1695.1 1095.3 L1696.9 1111.9 L1698.6 1125.8 L1700.0 1160.6 L1702.1 1136.9 L1703.5 1135.6 L1705.6 1161.9 L1708.1 1114.7 L1709.7 1113.3 L1711.1 1150.8 L1713.2 1145.3 L1715.3 1125.8 L1716.7 1087.6 L1718.8 1086.9 L1720.6 1095.3 L1721.9 1142.5 L1723.9 1123.1 L1725.7 1121.7 L1727.5 1134.2 L1729.2 1116.1 L1730.6 1116.1 L1731.9 1152.2 L1734.0 1127.2 L1736.1 1125.8 L1737.2 1178.6 L1739.6 1132.8 L1741.4 1145.3 L1743.1 1149.4 L1745.8 1185.6 L1747.9 1149.4 L1750.0 1114.7 L1751.4 1146.7 L1752.8 1106.4 L1754.4 1105.7 L1756.2 1146.7 L1759.0 1159.2 L1761.1 1135.6 L1761.8 1096.7 L1763.6 1097.4 L1765.0 1131.4 L1766.7 1102.9 L1768.8 1100.8 L1770.8 1200.8 L1772.9 1160.6 L1775.0 1157.8 L1778.5 1195.3 L1781.2 1114.7 L1783.3 1111.9 L1785.0 1146.7 L1786.8 1123.1 L1787.8 1166.1 L1789.6 1121.7 L1791.7 1123.1 L1793.1 1195.3 L1795.1 1124.4 L1797.2 1125.8 L1798.6 1121.7 L1799.7 1200.8 L1804.0 1118.0 L1806.0 1145.0 L1809.0 1109.0 L1811.0 1156.0 L1813.0 1108.0 L1815.0 1160.0 L1817.0 1130.0 L1818.4 1082.0 L1820.0 1053.0 L1822.0 1110.0 L1823.6 1142.0 L1826.0 1097.0 L1828.4 1118.0 L1831.0 1106.0 L1833.0 1047.0 L1835.6 1047.0 L1838.0 1102.0 L1839.6 1062.0 L1841.0 1112.0 L1843.0 1066.0 L1845.0 1040.0 L1847.0 1092.0 L1849.6 1066.0 L1852.0 1078.0 L1854.4 1090.0 L1857.0 1116.0 L1859.0 1084.0 L1861.0 1095.0 L1862.4 1013.0 L1864.4 1042.0 L1866.4 1080.0 L1869.0 1047.0 L1871.0 1030.0 L1873.0 1078.0 L1874.4 1103.0 L1876.0 1026.0 L1877.6 1095.0 L1879.0 1021.0 L1881.0 1030.0 L1883.0 1070.0 L1885.0 1034.0 L1886.4 1072.0 L1889.0 1030.0 L1891.0 1042.0 L1892.4 1026.0 L1894.4 1042.0 L1897.0 1073.0 L1899.0 1047.0 L1901.0 966.0 L1903.0 1039.0 L1905.0 974.0 L1907.0 1017.0 L1909.0 964.0 L1912.0 978.0 L1914.4 950.0 L1916.0 1007.0 L1918.0 952.0 L1921.0 954.0 L1923.0 990.0 L1925.0 950.0 L1927.0 960.0 L1929.0 946.0 L1931.6 1018.0 L1934.0 930.0 L1936.0 944.0 L1938.0 910.0 L1940.0 940.0 L1942.0 1040.0 L1943.6 840.0 L1944.4 796.0 L1946.4 942.0 L1948.0 900.0 L1950.0 926.0 L1952.0 824.0 L1954.4 815.0 L1956.0 889.0 L1958.0 828.0 L1960.0 868.0 L1962.4 817.0 L1964.4 840.0 L1966.0 860.0 L1968.0 908.0 L1969.6 836.0 L1971.6 852.0 L1975.0 886.0 L1977.0 804.0 L1979.0 818.0 L1981.0 766.0 L1983.0 814.0 L1985.0 835.0 L1987.0 850.0 L1988.0 753.0 L1990.4 804.0 L1993.1 757.8 L1994.4 614.7 L1996.7 757.8 L1998.6 821.7 L2000.0 639.7 L2002.2 641.1 L2004.2 782.8 L2005.6 716.1 L2008.3 746.7 L2011.1 716.1 L2014.4 710.6 L2016.1 748.1 L2018.1 856.4 L2020.0 757.8 L2022.2 768.9 L2025.0 741.1 L2027.8 750.8 L2030.6 785.6 L2033.3 746.7 L2036.1 735.6 L2038.3 757.8 L2041.1 756.4 L2042.0 976.0 L2044.0 920.0 L2046.0 878.0 L2047.6 892.0 L2049.0 976.0 L2051.0 900.0 L2053.0 932.0 L2055.0 902.0 L2057.0 932.0 L2059.0 916.0 L2061.6 940.0 L2063.6 858.0 L2065.6 924.0 L2069.0 939.0 L2071.6 902.0 L2074.0 883.0 L2076.0 916.0 L2077.6 933.0 L2080.0 926.0 L2083.0 841.0 L2085.0 920.0 L2087.0 892.0 L2089.0 960.0 L2090.4 966.0 L2093.0 881.0 L2095.0 898.0 L2097.0 894.0 L2099.0 914.0 L2100.0 865.0 L2102.4 880.0 L2104.0 860.0 L2106.0 799.0 L2108.0 800.0 L2109.0 933.0 L2111.0 850.0 L2114.0 849.0 L2116.0 878.0 L2118.0 860.0 L2120.0 827.0 L2122.4 916.0 L2124.0 836.0 L2126.0 833.0 L2128.0 860.0 L2130.0 845.0 L2132.0 880.0 L2134.0 940.0 L2136.0 910.0 L2138.0 893.0 L2140.0 906.0 L2142.0 906.0 L2143.0 986.0 L2146.0 984.0 L2148.0 1014.0 L2151.0 980.0 L2154.0 945.0 L2156.0 968.0 L2159.0 1002.0 L2161.0 952.0 L2163.6 984.0 L2167.0 919.0 L2169.0 932.0 L2171.0 960.0 L2173.0 950.0 L2174.4 980.0 L2177.0 990.0 L2179.0 1016.0 L2180.6 1033.9 L2183.3 1046.4 L2186.1 1025.6 L2188.9 1026.9 L2193.1 1018.6 L2195.8 1025.6 L2198.6 1100.6 L2202.2 1010.3 L2205.6 1042.2 L2208.3 1022.8 L2212.5 1025.6 L2215.3 1035.3 L2218.1 1021.4 L2222.2 1014.4 L2225.0 1020.0 L2229.2 1042.2 L2233.3 1028.3 L2237.5 1025.6 L2239.4 1006.1 L2242.2 1017.2 L2244.4 964.4 L2246.7 1014.4 L2248.6 932.5 L2251.4 1006.1 L2254.2 1035.3 L2256.9 1003.3 L2259.7 1051.9 L2262.5 1025.6 L2265.3 1057.5 L2267.2 983.9 L2269.4 892.2 L2271.7 1003.3 L2273.6 1075.6 L2276.4 970.0 L2279.2 968.6 L2282.8 986.7 L2284.7 1017.2 L2287.5 967.2 L2290.3 1015.8 L2293.1 1000.6 L2295.0 1039.4 L2297.2 986.7 L2300.0 950.6 L2302.8 990.8 L2305.0 940.0 L2307.0 878.0 L2309.0 992.0 L2312.0 991.0 L2314.0 980.0 L2316.0 868.0 L2319.0 872.0 L2321.6 794.0 L2324.0 844.0 L2327.0 867.0 L2330.0 776.0 L2332.0 777.0 L2334.0 810.0 L2337.0 855.0 L2338.4 830.0 L2340.0 859.0 L2343.0 848.0 L2345.0 846.0 L2347.0 785.0 L2350.0 922.0 L2352.4 841.0 L2355.0 850.0 L2359.0 931.0 L2362.0 868.0 L2363.0 842.0 L2365.0 844.0 L2366.0 889.0 L2368.0 820.0 L2370.4 783.0 L2373.0 854.0 L2376.0 852.0 L2379.0 828.0 L2381.0 834.0 L2383.0 824.0 L2385.0 843.0 L2388.0 822.0 L2390.4 840.0 L2393.0 864.0 L2395.0 878.0 L2398.0 876.0 L2401.0 881.0 L2403.0 848.0 L2406.1 850.6 L2408.3 883.9 L2410.6 918.6 L2413.3 882.5 L2416.7 879.7 L2419.4 770.0 L2422.2 839.4 L2425.0 770.0 L2429.2 833.9 L2431.9 825.6 L2433.9 747.8 L2436.1 720.0 L2436.9 661.9 L2438.3 641.1 L2439.7 699.4 L2441.8 655.0 L2443.2 530.0 L2445.0 418.9 L2446.7 655.0 L2448.1 613.3 L2450.1 571.7 L2452.2 546.7 L2454.3 548.1 L2455.7 585.6 L2457.8 631.4 L2459.2 555.0 L2461.9 556.4 L2463.3 600.8 L2464.7 557.1 L2466.8 606.4 L2468.9 607.8 L2470.3 530.0 L2471.7 513.8 L2473.3 543.9 L2474.4 659.2 L2476.5 613.3 L2477.9 568.2 L2479.3 638.3 L2480.7 641.1 L2482.8 593.9 L2484.4 679.3 L2486.2 599.4 L2487.6 555.0 L2489.0 578.6 L2490.0 621.7 L2491.8 583.5 L2493.2 639.7 L2494.6 638.3 L2496.7 591.8 L2498.1 627.2 L2499.4 655.0 L2500.8 696.7 L2502.2 738.3 L2503.6 759.2 L2505.0 724.4 L2505.7 682.8 L2507.1 685.6 L2508.5 641.1 L2509.9 627.2 L2511.9 650.8 L2513.3 691.1 L2515.4 682.8 L2516.8 627.2 L2518.2 609.2" fill="none" stroke="#16289c" stroke-width="6.0" stroke-linejoin="round" stroke-linecap="round"/>
</svg></body></html>
